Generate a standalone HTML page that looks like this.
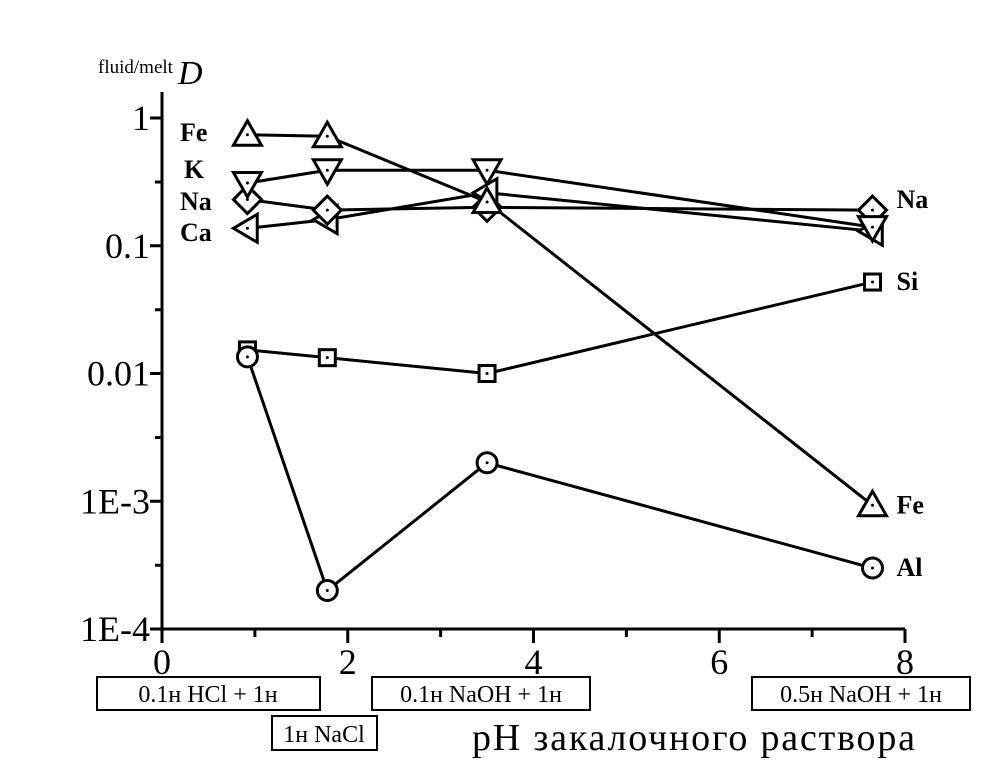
<!DOCTYPE html>
<html><head><meta charset="utf-8"><style>
body{margin:0;background:#fff;}
svg text{font-family:"Liberation Serif",serif;fill:#000;}
</style></head><body>
<svg id="chart" width="1004" height="779" xmlns="http://www.w3.org/2000/svg">
<g id="axes"></g>
<g id="series"></g>
<text x="98" y="73" font-size="19">fluid/melt</text>
<text x="178" y="84" font-size="34" font-style="italic">D</text>
<g><rect x="97" y="677" width="223" height="33" fill="none" stroke="#000" stroke-width="2"/><text x="208" y="702" font-size="24" text-anchor="middle">0.1н HCl + 1н</text></g>
<g><rect x="272" y="716" width="105" height="34" fill="none" stroke="#000" stroke-width="2"/><text x="324" y="742" font-size="24" text-anchor="middle">1н NaCl</text></g>
<g><rect x="372" y="677" width="218" height="33" fill="none" stroke="#000" stroke-width="2"/><text x="481" y="702" font-size="24" text-anchor="middle">0.1н NaOH + 1н</text></g>
<g><rect x="752" y="677" width="218" height="33" fill="none" stroke="#000" stroke-width="2"/><text x="861" y="702" font-size="24" text-anchor="middle">0.5н NaOH + 1н</text></g>
<text x="472" y="750" font-size="38" textLength="443">pH закалочного раствора</text>
</svg>
<script>
const xs = [0.92, 1.78, 3.5, 7.65];
const feVals = [0.74, 0.72, 0.22, 0.00093];
const kVals = [0.31, 0.39, 0.39, 0.14];
const naVals = [0.23, 0.19, 0.20, 0.19];
const caVals = [0.137, 0.16, 0.26, 0.13];
const siVals = [0.0153, 0.0133, 0.010, 0.052];
const alVals = [0.0135, 0.0002, 0.002, 0.0003];
const xTicks = [0, 2, 4, 6, 8];
const yTicks = [1, 0.1, 0.01, 0.001, 0.0001];
const yTickLabels = ["1", "0.1", "0.01", "1E-3", "1E-4"];

const NS = "http://www.w3.org/2000/svg";
const X0 = 162, X1 = 905, Y0 = 629, Y1 = 118;
function xS(v){ return X0 + (X1 - X0) * v / 8; }
function yS(v){ return Y1 + (Y0 - Y1) * (-Math.log10(v)) / 4; }
function mk(tag, attrs, parent){ const e = document.createElementNS(NS, tag); for (const k in attrs) e.setAttribute(k, attrs[k]); parent.appendChild(e); return e; }
const axes = document.getElementById('axes');
const ser = document.getElementById('series');

let l = mk('line', {x1:X0, y1:Y0, x2:X1, y2:Y0, stroke:'#000', 'stroke-width':3}, axes);


l = mk('line', {x1:X0, y1:Y0, x2:X0, y2:92, stroke:'#000', 'stroke-width':3}, axes);


for (let i = 0; i <= 8; i++) {
  const major = i % 2 === 0;
  const t = mk('line', {x1:xS(i), y1:Y0, x2:xS(i), y2:Y0 + (major ? 14 : 8), stroke:'#000', 'stroke-width':3}, axes);
  
  
}
xTicks.forEach(v => {
  const t = mk('text', {x:xS(v), y:674, 'font-size':36, 'text-anchor':'middle'}, axes);
  t.textContent = v;
  
  
});
yTicks.forEach((v, i) => {
  const t = mk('line', {x1:X0 - 12, y1:yS(v), x2:X0, y2:yS(v), stroke:'#000', 'stroke-width':3}, axes);
  
  
  const m = mk('line', {x1:X0 - 7, y1:yS(v) + 64, x2:X0, y2:yS(v) + 64, stroke:'#000', 'stroke-width':3}, axes);
  if (i === yTicks.length - 1) m.remove();
  
  
  const tx = mk('text', {x:X0 - 12, y:yS(v) + 12, 'font-size':36, 'text-anchor':'end'}, axes);
  tx.textContent = yTickLabels[i];
  
  
});

function marker(type, cx, cy, g){
  const s = 14, a = {fill:'#fff', stroke:'#000', 'stroke-width':3};
  let e;
  if (type === 'up') e = mk('polygon', Object.assign({points:`${cx},${cy-s} ${cx-s},${cy+s*0.75} ${cx+s},${cy+s*0.75}`}, a), g);
  else if (type === 'down') e = mk('polygon', Object.assign({points:`${cx},${cy+s} ${cx-s},${cy-s*0.75} ${cx+s},${cy-s*0.75}`}, a), g);
  else if (type === 'left') e = mk('polygon', Object.assign({points:`${cx-s},${cy} ${cx+s*0.7},${cy-s} ${cx+s*0.7},${cy+s}`}, a), g);
  else if (type === 'diamond') e = mk('polygon', Object.assign({points:`${cx},${cy-s} ${cx+s},${cy} ${cx},${cy+s} ${cx-s},${cy}`}, a), g);
  else if (type === 'square') e = mk('rect', Object.assign({x:cx-8, y:cy-8, width:16, height:16}, a), g);
  else e = mk('circle', Object.assign({cx:cx, cy:cy, r:10}, a), g);
  
  
  mk('circle', {cx:cx, cy:cy, r:1.5, fill:'#000'}, g);
}
const series = [
  {name:'si', vals:siVals, m:'square', label:'Si', dy:8},
  {name:'al', vals:alVals, m:'circle', label:'Al', dy:8},
  {name:'ca', vals:caVals, m:'left', label:null, dy:0},
  {name:'na', vals:naVals, m:'diamond', label:'Na', dy:-2},
  {name:'k', vals:kVals, m:'down', label:null, dy:0},
  {name:'fe', vals:feVals, m:'up', label:'Fe', dy:8}
];
series.forEach(s => {
  const g = mk('g', {}, ser);
  
  
  const pts = xs.map((x, i) => xS(x) + ',' + yS(s.vals[i])).join(' ');
  const pl = mk('polyline', {points:pts, fill:'none', stroke:'#000', 'stroke-width':3}, g);
  
  
  xs.forEach((x, i) => marker(s.m, xS(x), yS(s.vals[i]), g));
  if (s.label) {
    const t = mk('text', {x:xS(xs[3]) + 24, y:yS(s.vals[3]) + s.dy, 'font-size':26, 'font-weight':'bold'}, g);
    t.textContent = s.label;
    
    
  }
});
[['Fe', 141, 180], ['K', 178, 184], ['Na', 210, 180], ['Ca', 241, 180]].forEach(([lab, y, x]) => {
  const t = mk('text', {x:x, y:y, 'font-size':26, 'font-weight':'bold'}, ser);
  t.textContent = lab;
  
  
});
</script>
</body></html>
